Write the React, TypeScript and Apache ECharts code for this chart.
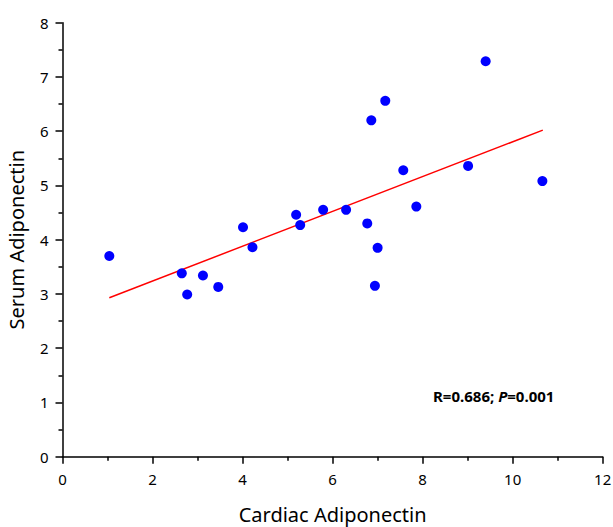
import React, { useEffect, useRef } from "react";
import * as echarts from "echarts";

const cardiac = [1.04, 2.65, 2.77, 3.12, 3.46, 4.01, 4.22, 5.19, 5.28, 5.79, 6.30, 6.77, 6.86, 6.94, 7.00, 7.17, 7.57, 7.86, 9.01, 9.40, 10.66];
const serum = [3.70, 3.38, 2.99, 3.34, 3.13, 4.23, 3.86, 4.46, 4.27, 4.55, 4.55, 4.30, 6.20, 3.15, 3.85, 6.56, 5.28, 4.61, 5.36, 7.29, 5.08];
const fitX = [1.04, 10.67];
const fitY = [2.93, 6.02];
const xTicks = [0, 2, 4, 6, 8, 10, 12];
const yTicks = [0, 1, 2, 3, 4, 5, 6, 7, 8];

const FONT = "Noto Sans";

export default function App() {
  const ref = useRef<HTMLDivElement>(null);
  useEffect(() => {
    if (!ref.current) return;
    const chart = echarts.init(ref.current, null, { renderer: "svg" });
    const axisCommon = {
      axisLine: { show: true, onZero: false, lineStyle: { color: "#000", width: 1.5 } },
      axisTick: { show: true, inside: false, length: 7, lineStyle: { color: "#000", width: 1.5 } },
      minorTick: { show: true, splitNumber: 2, length: 4, lineStyle: { color: "#000", width: 1.5 } },
      splitLine: { show: false },
      nameLocation: "middle" as const,
      nameTextStyle: { fontFamily: FONT, fontSize: 20, color: "#000" },
    };
    chart.setOption({
      animation: false,
      backgroundColor: "#fff",
      grid: { left: 62.5, right: 10.3, top: 22.7, bottom: 70.3, containLabel: false, outerBoundsMode: "none" },
      xAxis: {
        type: "value",
        min: xTicks[0],
        max: xTicks[xTicks.length - 1],
        interval: 2,
        name: "Cardiac Adiponectin",
        nameGap: 48,
        ...axisCommon,
        axisLabel: { fontFamily: FONT, fontSize: 15, color: "#000", margin: 15 },
      },
      yAxis: {
        type: "value",
        min: yTicks[0],
        max: yTicks[yTicks.length - 1],
        interval: 1,
        name: "Serum Adiponectin",
        nameGap: 36,
        nameRotate: 90,
        ...axisCommon,
        axisLabel: { fontFamily: FONT, fontSize: 15, color: "#000", margin: 14 },
      },
      series: [
        {
          type: "line",
          data: fitX.map((x, i) => [x, fitY[i]]),
          symbol: "none",
          lineStyle: { color: "#ff0000", width: 1.5 },
          z: 2,
        },
        {
          type: "scatter",
          data: cardiac.map((x, i) => [x, serum[i]]),
          symbol: "circle",
          symbolSize: 10,
          itemStyle: { color: "#0000ff", opacity: 1 },
          z: 3,
        },
      ],
      graphic: [
        {
          type: "text",
          left: 433,
          top: 388,
          style: {
            text: "{b|R=0.686; }{i|P}{b|=0.001}",
            rich: {
              b: { fontFamily: FONT, fontSize: 15, fontWeight: "bold", fill: "#000" },
              i: { fontFamily: FONT, fontSize: 15, fontWeight: "bold", fontStyle: "italic", fill: "#000" },
            },
          },
        },
      ],
    });
    return () => chart.dispose();
  }, []);
  return <div ref={ref} style={{ width: 613, height: 527, position: "absolute", left: 0, top: 0 }} />;
}
